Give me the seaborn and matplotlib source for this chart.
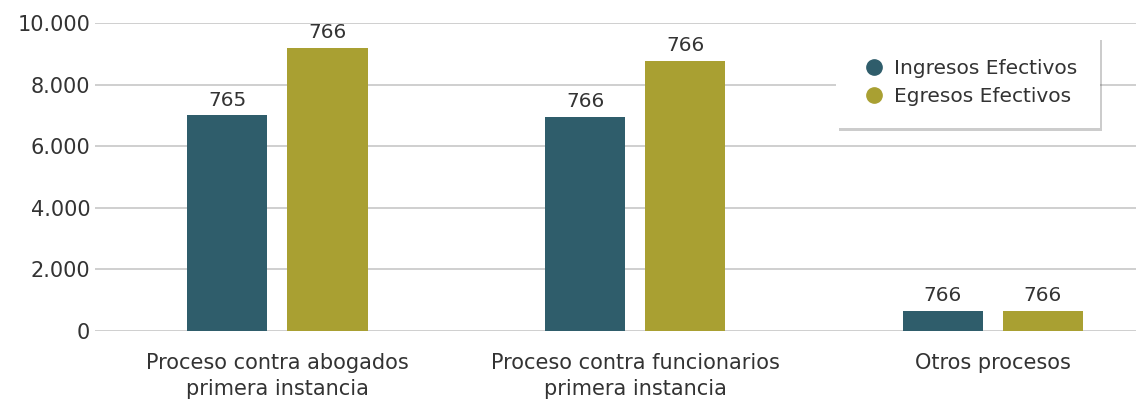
import pandas as pd
import numpy as np
import matplotlib.pyplot as plt
import seaborn as sns

# Datos
categorias = ['Proceso contra abogados\nprimera instancia',
              'Proceso contra funcionarios\nprimera instancia',
              'Otros procesos']
series = ['Ingresos Efectivos', 'Egresos Efectivos']
ingresos = [7000, 6960, 650]
egresos = [9200, 8770, 650]
etiquetas_ingresos = ['765', '766', '766']
etiquetas_egresos = ['766', '766', '766']
colores = ['#2f5d6b', '#a9a032']

df = pd.DataFrame({
    'categoria': categorias * 2,
    'serie': [series[0]] * 3 + [series[1]] * 3,
    'valor': ingresos + egresos,
})

sns.set_style('white')
plt.rcParams['font.family'] = ['DejaVu Sans']
texto = '#333333'

fig = plt.figure(figsize=(11.36, 4.01), dpi=100)
ax = fig.add_axes([95 / 1136, 70 / 401, 1 - 95 / 1136, 308 / 401])

sns.barplot(data=df, x='categoria', y='valor', hue='serie', palette=colores,
            saturation=1, width=0.56, gap=0.2, linewidth=0, ax=ax, legend=True)

# Etiquetas de barras
for cont, etiquetas in zip(ax.containers, [etiquetas_ingresos, etiquetas_egresos]):
    ax.bar_label(cont, labels=etiquetas, padding=4, fontsize=14.5, color=texto)

ax.set_ylim(0, 10000)
ax.set_xlim(-0.51, 2.40)
ax.set_yticks(np.arange(0, 10001, 2000))
ax.set_yticklabels([f'{int(v):,}'.replace(',', '.') for v in np.arange(0, 10001, 2000)])
ax.yaxis.grid(True, color='#cccccc', linewidth=1.3)
ax.set_axisbelow(True)
ax.tick_params(axis='both', length=0, labelsize=15, colors=texto)
ax.tick_params(axis='x', pad=16)
for t in ax.get_xticklabels():
    t.set_linespacing(1.35)
ax.set_xlabel('')
ax.set_ylabel('')
for s in ax.spines.values():
    s.set_visible(False)

# Leyenda
handles = [plt.Line2D([], [], marker='o', linestyle='', markersize=11, color=c) for c in colores]
leg = ax.legend(handles, series, loc='upper right', bbox_to_anchor=(0.965, 0.955),
                fontsize=14.5, frameon=True, fancybox=False, shadow={'color': '0.35', 'alpha': 0.3},
                handletextpad=0.2, borderpad=1.1, labelspacing=0.45, borderaxespad=0,
                handlelength=1.6)
leg.get_frame().set_edgecolor('white')
leg.get_frame().set_linewidth(0)
for t in leg.get_texts():
    t.set_color(texto)

fig.savefig('out.png', dpi=100)
